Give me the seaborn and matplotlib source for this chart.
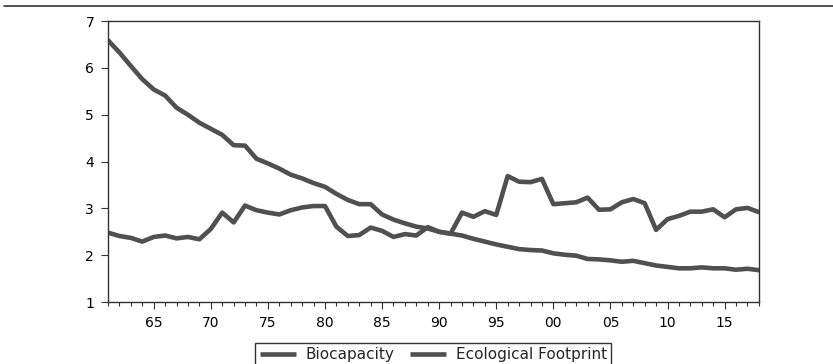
import pandas as pd
import matplotlib.pyplot as plt
import seaborn as sns
from matplotlib.lines import Line2D
from matplotlib.ticker import MultipleLocator, FixedLocator

years = list(range(1961, 2019))

biocapacity = [6.59, 6.33, 6.04, 5.76, 5.54, 5.41, 5.15, 5.00, 4.83, 4.70,
               4.57, 4.35, 4.34, 4.06, 3.96, 3.85, 3.72, 3.64, 3.54, 3.46,
               3.31, 3.18, 3.09, 3.09, 2.87, 2.76, 2.68, 2.61, 2.57, 2.50,
               2.46, 2.42, 2.35, 2.29, 2.23, 2.18, 2.13, 2.11, 2.10, 2.04,
               2.01, 1.99, 1.92, 1.91, 1.89, 1.86, 1.88, 1.83, 1.78, 1.75,
               1.72, 1.72, 1.74, 1.72, 1.72, 1.69, 1.71, 1.68]

footprint = [2.48, 2.41, 2.37, 2.29, 2.39, 2.42, 2.36, 2.39, 2.34, 2.56,
             2.91, 2.70, 3.06, 2.96, 2.91, 2.87, 2.96, 3.02, 3.05, 3.05,
             2.61, 2.41, 2.43, 2.59, 2.52, 2.39, 2.45, 2.42, 2.60, 2.50,
             2.46, 2.91, 2.82, 2.94, 2.86, 3.69, 3.57, 3.56, 3.63, 3.09,
             3.11, 3.13, 3.23, 2.97, 2.98, 3.13, 3.20, 3.11, 2.54, 2.77,
             2.84, 2.93, 2.93, 2.98, 2.81, 2.98, 3.01, 2.92]

tick_years = list(range(1965, 2019, 5))
tick_labels = [str(y)[-2:] for y in tick_years]

df = pd.DataFrame({"Year": years,
                   "Biocapacity": biocapacity,
                   "Ecological Footprint": footprint})
long_df = df.melt(id_vars="Year", var_name="series", value_name="value")

sns.set_style("ticks")
plt.rcParams["font.family"] = ["DejaVu Sans"]

line_color = "#505050"

fig = plt.figure(figsize=(8.33, 3.64), dpi=100)
ax = fig.add_axes([0.1297, 0.1703, 0.7813, 0.7717])

sns.lineplot(data=long_df, x="Year", y="value", hue="series",
             palette=[line_color, line_color], linewidth=3.3,
             legend=False, ax=ax)

ax.set_xlim(1961, 2018)
ax.set_ylim(1, 7)
ax.set_xlabel("")
ax.set_ylabel("")
ax.xaxis.set_major_locator(FixedLocator(tick_years))
ax.set_xticklabels(tick_labels)
ax.xaxis.set_minor_locator(MultipleLocator(1))
ax.yaxis.set_major_locator(MultipleLocator(1))

for side in ["left", "right", "top", "bottom"]:
    ax.spines[side].set_visible(True)
    ax.spines[side].set_color("#333333")
    ax.spines[side].set_linewidth(1.0)

ax.tick_params(axis="both", which="major", direction="out", length=5,
               width=0.8, color="#333333", labelsize=10, labelcolor="black")
ax.tick_params(axis="x", which="minor", direction="out", length=3,
               width=0.8, color="#333333")
ax.tick_params(axis="x", which="major", pad=5)
ax.tick_params(axis="y", which="major", pad=5)

# rule across the top of the figure
fig.add_artist(Line2D([0.005, 1.0], [0.983, 0.983], transform=fig.transFigure,
                      color="#333333", linewidth=1.2))

handles = [Line2D([], [], color=line_color, linewidth=3.3, solid_capstyle="butt"),
           Line2D([], [], color=line_color, linewidth=3.3, solid_capstyle="butt")]
leg = fig.legend(handles, ["Biocapacity", "Ecological Footprint"],
                 loc="upper center", bbox_to_anchor=(0.52, 0.058), ncol=2,
                 frameon=True, fancybox=False, edgecolor="black",
                 fontsize=11, handlelength=2.4, handletextpad=0.6,
                 columnspacing=1.0, borderpad=0.3, borderaxespad=0)
leg.get_frame().set_linewidth(1.0)

fig.savefig("out.png", dpi=100)
